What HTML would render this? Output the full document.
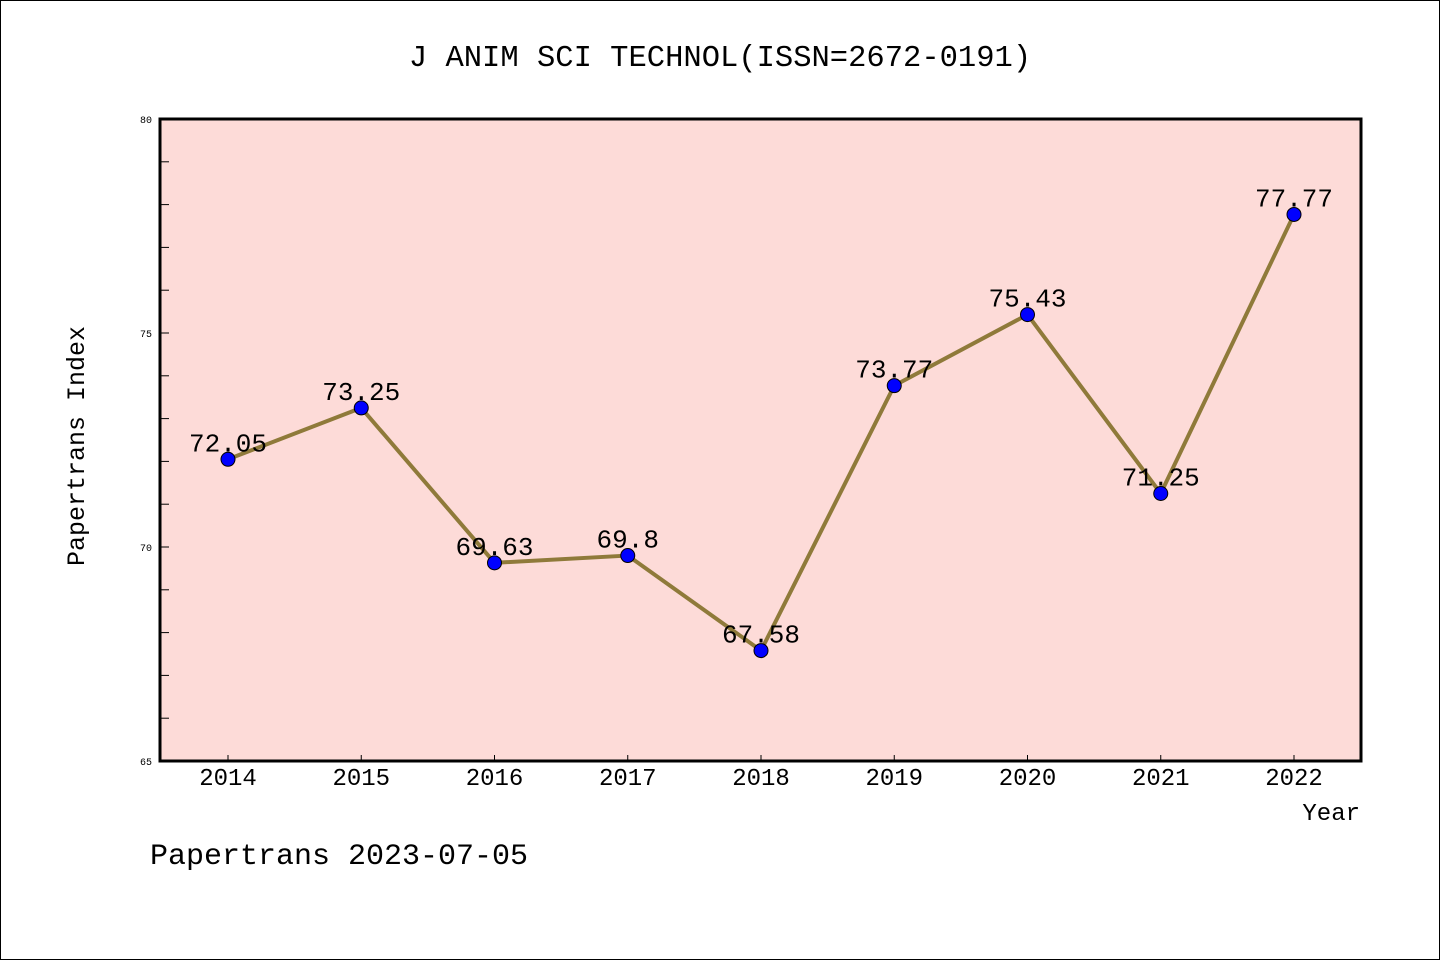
<!DOCTYPE html>
<html><head><meta charset="utf-8"><style>
body{margin:0;background:#fff}
svg{display:block}
text{font-family:"Liberation Mono",monospace;fill:#000}
</style></head><body>
<svg id="c" width="1440" height="960">
<rect x="0.5" y="0.5" width="1439" height="959" fill="#fff" stroke="#000"/>
<text x="720" y="66" font-size="30.5" text-anchor="middle">J ANIM SCI TECHNOL(ISSN=2672-0191)</text>
<rect x="160" y="119" width="1201" height="642" fill="#fddbd8"/>
<g id="ax"></g>
<rect x="160" y="119" width="1201" height="642" fill="none" stroke="#000" stroke-width="3"/>
<text transform="translate(84,446) rotate(-90)" font-size="25" text-anchor="middle">Papertrans Index</text>
<text x="1360" y="820" font-size="24" text-anchor="end">Year</text>
<text x="150" y="864" font-size="30">Papertrans 2023-07-05</text>
<g id="series"></g>
</svg>
<script>
const years=["2014","2015","2016","2017","2018","2019","2020","2021","2022"];
const values=[72.05,73.25,69.63,69.8,67.58,73.77,75.43,71.25,77.77];
const labels=["72.05","73.25","69.63","69.8","67.58","73.77","75.43","71.25","77.77"];
const yTicks=[65,70,75,80];
const NS="http://www.w3.org/2000/svg";
const X=i=>228+i*133.25;
const Y=v=>761-(v-65)*642/15;
function mk(t,a,p){const e=document.createElementNS(NS,t);for(const k in a)e.setAttribute(k,a[k]);p.appendChild(e);return e;}
const ax=document.getElementById('ax');
for(let v=66;v<80;v++){
 const l=mk('line',{x1:160,x2:169,y1:Y(v),y2:Y(v),stroke:'#000','stroke-width':1},ax);
 
 
}
yTicks.forEach(v=>{
 const t=mk('text',{x:152,y:Y(v)+4,'font-size':10,'text-anchor':'end'},ax);t.textContent=v;
 
 
});
years.forEach((y,i)=>{
 const l=mk('line',{x1:X(i),x2:X(i),y1:761,y2:755,stroke:'#000','stroke-width':1},ax);
 
 
 const t=mk('text',{x:X(i),y:785,'font-size':24,'text-anchor':'middle'},ax);t.textContent=y;
 
 
});
const s=document.getElementById('series');
const pl=mk('polyline',{points:values.map((v,i)=>X(i)+','+Y(v)).join(' '),fill:'none',stroke:'#8f7a3a','stroke-width':4,'stroke-linejoin':'round'},s);


values.forEach((v,i)=>{
 const c=mk('circle',{cx:X(i),cy:Y(v),r:7,fill:'#0000ff',stroke:'#000','stroke-width':1},s);
 
 
 const t=mk('text',{x:X(i),y:Y(v)-8,'font-size':26,'text-anchor':'middle'},s);t.textContent=labels[i];
 
 
});
</script>
</body></html>
